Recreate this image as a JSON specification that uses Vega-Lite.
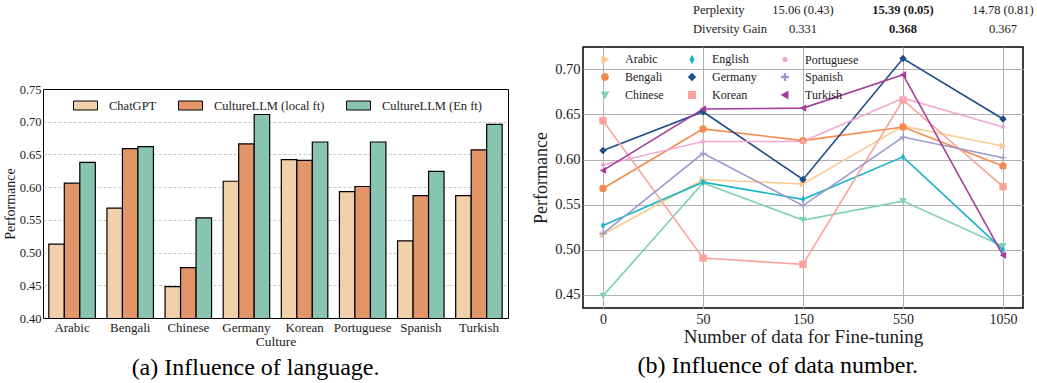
{
  "$schema": "https://vega.github.io/schema/vega-lite/v6.json",
  "padding": {"left": 2, "top": 0, "right": 2, "bottom": 0},
  "background": "white",
  "config": {
    "font": "Liberation Serif",
    "view": {"stroke": "black", "strokeWidth": 1},
    "axis": {"labelFont": "Liberation Serif", "titleFont": "Liberation Serif", "titleFontWeight": "normal", "labelColor": "#1a1a1a", "titleColor": "#1a1a1a", "domain": false, "ticks": false},
    "legend": {"labelFont": "Liberation Serif", "labelColor": "#1a1a1a"},
    "title": {"font": "Liberation Serif", "fontWeight": "normal", "color": "black"}
  },
  "resolve": {"scale": {"color": "independent", "shape": "independent"}, "legend": {"color": "independent", "shape": "independent"}},
  "spacing": 22,
  "hconcat": [
    {
      "bounds": "flush",
      "spacing": 9,
      "vconcat": [
        {
          "width": 465, "height": 80,
          "view": {"stroke": null},
          "data": {"values": [{"t": ""}]},
          "mark": "text",
          "encoding": {"text": {"field": "t"}}
        },
        {
          "width": 465, "height": 229,
          "data": {"values": [
            {"culture": "Arabic", "model": "ChatGPT", "value": 0.513},
            {"culture": "Arabic", "model": "CultureLLM (local ft)", "value": 0.606},
            {"culture": "Arabic", "model": "CultureLLM (En ft)", "value": 0.638},
            {"culture": "Bengali", "model": "ChatGPT", "value": 0.568},
            {"culture": "Bengali", "model": "CultureLLM (local ft)", "value": 0.659},
            {"culture": "Bengali", "model": "CultureLLM (En ft)", "value": 0.662},
            {"culture": "Chinese", "model": "ChatGPT", "value": 0.448},
            {"culture": "Chinese", "model": "CultureLLM (local ft)", "value": 0.477},
            {"culture": "Chinese", "model": "CultureLLM (En ft)", "value": 0.553},
            {"culture": "Germany", "model": "ChatGPT", "value": 0.609},
            {"culture": "Germany", "model": "CultureLLM (local ft)", "value": 0.666},
            {"culture": "Germany", "model": "CultureLLM (En ft)", "value": 0.711},
            {"culture": "Korean", "model": "ChatGPT", "value": 0.642},
            {"culture": "Korean", "model": "CultureLLM (local ft)", "value": 0.641},
            {"culture": "Korean", "model": "CultureLLM (En ft)", "value": 0.669},
            {"culture": "Portuguese", "model": "ChatGPT", "value": 0.593},
            {"culture": "Portuguese", "model": "CultureLLM (local ft)", "value": 0.601},
            {"culture": "Portuguese", "model": "CultureLLM (En ft)", "value": 0.669},
            {"culture": "Spanish", "model": "ChatGPT", "value": 0.518},
            {"culture": "Spanish", "model": "CultureLLM (local ft)", "value": 0.587},
            {"culture": "Spanish", "model": "CultureLLM (En ft)", "value": 0.624},
            {"culture": "Turkish", "model": "ChatGPT", "value": 0.587},
            {"culture": "Turkish", "model": "CultureLLM (local ft)", "value": 0.657},
            {"culture": "Turkish", "model": "CultureLLM (En ft)", "value": 0.696}
          ]},
          "title": {"text": "(a) Influence of language.", "orient": "bottom", "font": "Liberation Serif", "fontSize": 24, "offset": 8, "frame": "bounds", "anchor": "middle"},
          "mark": {"type": "bar", "stroke": "black", "strokeWidth": 1.2, "clip": true},
          "encoding": {
            "x": {"field": "culture", "type": "nominal", "sort": null,
                  "scale": {"paddingInner": 0.2, "paddingOuter": 0.1},
                  "axis": {"title": "Culture", "labelAngle": 0, "labelFontSize": 13, "titleFontSize": 13.5, "labelPadding": 3, "titlePadding": 0}},
            "xOffset": {"field": "model", "sort": ["ChatGPT", "CultureLLM (local ft)", "CultureLLM (En ft)"], "scale": {"paddingInner": 0, "paddingOuter": 0}},
            "y": {"field": "value", "type": "quantitative",
                  "scale": {"domain": [0.4, 0.75], "nice": false, "zero": false},
                  "axis": {"values": [0.4, 0.45, 0.5, 0.55, 0.6, 0.65, 0.7, 0.75], "format": ".2f", "grid": true, "gridDash": [3, 2], "gridColor": "#c8c8c8",
                           "gridOpacity": {"condition": {"test": "datum.value < 0.42 || datum.value > 0.73", "value": 0}, "value": 1},
                           "title": "Performance", "labelFontSize": 12.5, "titleFontSize": 14, "labelPadding": 2, "titlePadding": 2}},
            "color": {"field": "model", "type": "nominal",
                      "scale": {"domain": ["ChatGPT", "CultureLLM (local ft)", "CultureLLM (En ft)"], "range": ["#f1d0aa", "#e3956a", "#88c4b0"]},
                      "legend": {"title": null, "orient": "none", "legendX": 36, "legendY": 99, "direction": "horizontal", "columns": 3, "columnPadding": 19,
                                 "symbolType": "M-2,-0.75H2V0.75H-2Z", "symbolSize": 144, "symbolStrokeColor": "black", "symbolStrokeWidth": 1, "symbolOpacity": 1,
                                 "labelFontSize": 12.5, "labelOffset": 17}}
          }
        }
      ]
    },
    {
      "bounds": "flush",
      "spacing": 9,
      "vconcat": [
        {
          "width": 440, "height": 38,
          "view": {"stroke": null},
          "data": {"values": [
            {"row": "1", "col": 0, "t": "Perplexity", "w": "normal"},
            {"row": "1", "col": 1, "t": "15.06 (0.43)", "w": "normal"},
            {"row": "1", "col": 2, "t": "15.39 (0.05)", "w": "bold"},
            {"row": "1", "col": 3, "t": "14.78 (0.81)", "w": "normal"},
            {"row": "2", "col": 0, "t": "Diversity Gain", "w": "normal"},
            {"row": "2", "col": 1, "t": "0.331", "w": "normal"},
            {"row": "2", "col": 2, "t": "0.368", "w": "bold"},
            {"row": "2", "col": 3, "t": "0.367", "w": "normal"}
          ]},
          "encoding": {
            "x": {"field": "col", "type": "quantitative", "scale": {"domain": [-1.2, 3.2], "nice": false, "zero": false}, "axis": null},
            "y": {"field": "row", "type": "ordinal", "scale": {"type": "point", "padding": 0.5}, "axis": null},
            "text": {"field": "t"}
          },
          "layer": [
            {"transform": [{"filter": "datum.col == 0"}], "mark": {"type": "text", "align": "left", "dx": -10, "fontSize": 12.5, "color": "#1a1a1a"}},
            {"transform": [{"filter": "datum.col > 0 && datum.w != 'bold'"}], "mark": {"type": "text", "align": "center", "fontSize": 12.5, "color": "#1a1a1a"}},
            {"transform": [{"filter": "datum.w == 'bold'"}], "mark": {"type": "text", "align": "center", "fontSize": 12.5, "fontWeight": "bold", "color": "#1a1a1a"}}
          ]
        },
        {
          "width": 440, "height": 261,
          "view": {"stroke": "black", "strokeWidth": 1.5},
          "data": {"values": [
            {"lang": "Arabic", "n": 0, "v": 0.517}, {"lang": "Arabic", "n": 50, "v": 0.578}, {"lang": "Arabic", "n": 150, "v": 0.573}, {"lang": "Arabic", "n": 550, "v": 0.637}, {"lang": "Arabic", "n": 1050, "v": 0.615},
            {"lang": "Bengali", "n": 0, "v": 0.568}, {"lang": "Bengali", "n": 50, "v": 0.634}, {"lang": "Bengali", "n": 150, "v": 0.621}, {"lang": "Bengali", "n": 550, "v": 0.636}, {"lang": "Bengali", "n": 1050, "v": 0.593},
            {"lang": "Chinese", "n": 0, "v": 0.449}, {"lang": "Chinese", "n": 50, "v": 0.574}, {"lang": "Chinese", "n": 150, "v": 0.533}, {"lang": "Chinese", "n": 550, "v": 0.554}, {"lang": "Chinese", "n": 1050, "v": 0.504},
            {"lang": "English", "n": 0, "v": 0.527}, {"lang": "English", "n": 50, "v": 0.575}, {"lang": "English", "n": 150, "v": 0.556}, {"lang": "English", "n": 550, "v": 0.603}, {"lang": "English", "n": 1050, "v": 0.500},
            {"lang": "Germany", "n": 0, "v": 0.610}, {"lang": "Germany", "n": 50, "v": 0.653}, {"lang": "Germany", "n": 150, "v": 0.578}, {"lang": "Germany", "n": 550, "v": 0.712}, {"lang": "Germany", "n": 1050, "v": 0.645},
            {"lang": "Korean", "n": 0, "v": 0.643}, {"lang": "Korean", "n": 50, "v": 0.491}, {"lang": "Korean", "n": 150, "v": 0.484}, {"lang": "Korean", "n": 550, "v": 0.666}, {"lang": "Korean", "n": 1050, "v": 0.570},
            {"lang": "Portuguese", "n": 0, "v": 0.594}, {"lang": "Portuguese", "n": 50, "v": 0.620}, {"lang": "Portuguese", "n": 150, "v": 0.620}, {"lang": "Portuguese", "n": 550, "v": 0.668}, {"lang": "Portuguese", "n": 1050, "v": 0.636},
            {"lang": "Spanish", "n": 0, "v": 0.518}, {"lang": "Spanish", "n": 50, "v": 0.607}, {"lang": "Spanish", "n": 150, "v": 0.549}, {"lang": "Spanish", "n": 550, "v": 0.625}, {"lang": "Spanish", "n": 1050, "v": 0.602},
            {"lang": "Turkish", "n": 0, "v": 0.588}, {"lang": "Turkish", "n": 50, "v": 0.656}, {"lang": "Turkish", "n": 150, "v": 0.657}, {"lang": "Turkish", "n": 550, "v": 0.694}, {"lang": "Turkish", "n": 1050, "v": 0.494}
          ]},
          "title": {"text": "(b) Influence of data number.", "orient": "bottom", "font": "Liberation Serif", "fontSize": 24, "offset": 8, "frame": "bounds", "anchor": "middle"},
          "encoding": {
            "x": {"field": "n", "type": "ordinal",
                  "scale": {"type": "point", "domain": [0, 50, 150, 550, 1050], "padding": 0.2},
                  "axis": {"labelAngle": 0, "grid": true, "gridColor": "#b0b0b0", "gridWidth": 1, "title": "Number of data for Fine-tuning", "labelFontSize": 14, "titleFontSize": 19, "labelPadding": 4, "titlePadding": 1}},
            "y": {"field": "v", "type": "quantitative",
                  "scale": {"domain": [0.4356, 0.7247], "nice": false, "zero": false},
                  "axis": {"values": [0.45, 0.5, 0.55, 0.6, 0.65, 0.7], "format": ".2f", "grid": true, "gridColor": "#b0b0b0", "gridWidth": 1, "title": "Performance", "labelFontSize": 14.5, "titleFontSize": 18, "labelPadding": 3, "titlePadding": 4}},
            "color": {"field": "lang", "type": "nominal",
                      "scale": {"domain": ["Arabic", "English", "Portuguese", "Bengali", "Germany", "Spanish", "Chinese", "Korean", "Turkish"],
                                "range": ["#fdca93", "#19b4ca", "#f4a8d4", "#f58a4c", "#1f4e8b", "#9b9bcf", "#7fd1b1", "#fba39b", "#a43c9e"]},
                      "legend": {"title": null, "orient": "none", "legendX": 16, "legendY": 53, "direction": "horizontal", "columns": 3, "columnPadding": 21, "rowPadding": 4,
                                 "symbolSize": 40, "symbolStrokeWidth": 1.5, "labelFontSize": 12, "labelOffset": 14}}
          },
          "layer": [
            {"mark": {"type": "line", "strokeWidth": 1.6}},
            {"mark": {"type": "point", "filled": true, "opacity": 1, "size": 55},
             "encoding": {"shape": {"field": "lang", "type": "nominal",
                                    "scale": {"domain": ["Arabic", "English", "Portuguese", "Bengali", "Germany", "Spanish", "Chinese", "Korean", "Turkish"],
                                              "range": ["triangle-right", "M0,-1L0.55,0L0,1L-0.55,0Z", "M0.6,0A0.6,0.6 0 1,1 -0.6,0A0.6,0.6 0 1,1 0.6,0Z", "circle", "diamond", "M-1,-0.14H-0.14V-1H0.14V-0.14H1V0.14H0.14V1H-0.14V0.14H-1Z", "triangle-down", "square", "triangle-left"]},
                                    "legend": null}}}
          ]
        }
      ]
    }
  ]
}
